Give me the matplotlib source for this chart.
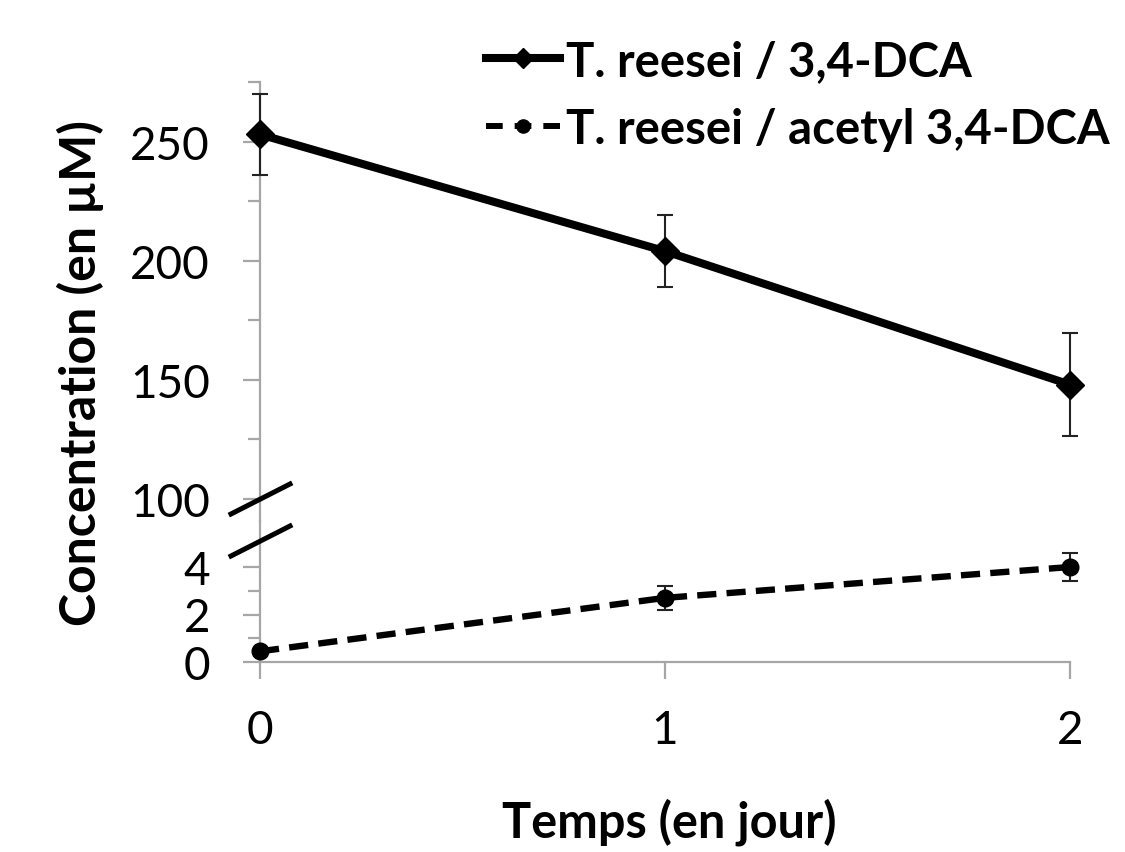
import matplotlib.pyplot as plt
from matplotlib.lines import Line2D

plt.rcParams["font.family"] = ["Lato", "DejaVu Sans"]

days = [0, 1, 2]
dca = [253, 204, 148]
dca_err = [17, 15, 21.5]
acetyl = [0.45, 2.7, 4.0]
acetyl_err = [0.1, 0.5, 0.57]
labels = ["T. reesei / 3,4-DCA", "T. reesei / acetyl 3,4-DCA"]

W, H = 1125, 853
grey = "#a6a6a6"

fig = plt.figure(figsize=(W / 100, H / 100), dpi=100)

x0, x1 = 260 / W, 1070 / W
y_top, y_mid, y_bot = 83, 522, 663
ax_up = fig.add_axes([x0, 1 - y_mid / H, x1 - x0, (y_mid - y_top) / H])
ax_lo = fig.add_axes([x0, 1 - y_bot / H, x1 - x0, (y_bot - y_mid) / H])

# upper part : 3,4-DCA
ax_up.errorbar(days, dca, yerr=dca_err, color="black", lw=5.8, marker="D",
               ms=14.5, ecolor="#222222", elinewidth=1.5, capsize=6, capthick=1.5,
               clip_on=False, zorder=3)
ax_up.set_xlim(0, 2)
ax_up.set_ylim(100 - (y_mid - 500) / 2.38, 275)
ax_up.set_yticks([100, 150, 200, 250])
ax_up.set_yticks([125, 175, 225, 275], minor=True)
ax_up.set_xticks([])

# lower part : acetyl 3,4-DCA
ax_lo.errorbar(days, acetyl, yerr=acetyl_err, color="black", lw=4.6, ls=(0, (3, 1.6)),
               marker="o", ms=12, ecolor="#222222", elinewidth=1.5, capsize=6,
               capthick=1.5, clip_on=False, zorder=3)
ax_lo.set_xlim(0, 2)
ax_lo.set_ylim(0, (y_bot - y_mid) / 23.75)
ax_lo.set_yticks([0, 2, 4])
ax_lo.set_yticks([1, 3], minor=True)
ax_lo.set_xticks(days)
ax_lo.set_xticklabels([str(d) for d in days])

for ax in (ax_up, ax_lo):
    for s in ("top", "right"):
        ax.spines[s].set_visible(False)
    ax.spines["left"].set_color(grey)
    ax.spines["left"].set_linewidth(1.6)
    ax.spines["bottom"].set_color(grey)
    ax.spines["bottom"].set_linewidth(1.6)
    ax.tick_params(axis="both", which="major", length=12, width=1.6, color=grey,
                   labelsize=33)
    ax.tick_params(axis="y", which="minor", length=8.5, width=1.6, color=grey)
    ax.tick_params(axis="y", which="major", pad=24)
    ax.patch.set_visible(False)
ax_up.spines["bottom"].set_visible(False)
ax_lo.tick_params(axis="x", pad=22)

# axis break marks
for ya, yb in ((515, 485), (557, 527)):
    fig.add_artist(Line2D([231 / W, 290 / W], [1 - ya / H, 1 - yb / H],
                          color="black", lw=3.6))

fig.text(80 / W, 1 - 373 / H, "Concentration (en µM)", rotation=90,
         ha="center", va="center", fontsize=36, fontweight="bold")
fig.text(669 / W, 1 - 838 / H, "Temps (en jour)", ha="center", va="baseline",
         fontsize=35, fontweight="bold")

handles = [
    Line2D([], [], color="black", lw=5.8, marker="D", ms=10.5),
    Line2D([], [], color="black", lw=4.3, ls=(0, (2.8, 2.0)), marker="o", ms=9.5),
]
fig.legend(handles, labels,
           loc="upper left", bbox_to_anchor=(486 / W, 1 - 40 / H), frameon=False,
           prop={"size": 34, "weight": "bold"}, handlelength=1.57,
           handletextpad=0.12, labelspacing=0.5, borderpad=0, borderaxespad=0)

fig.savefig("out.png", dpi=100)
